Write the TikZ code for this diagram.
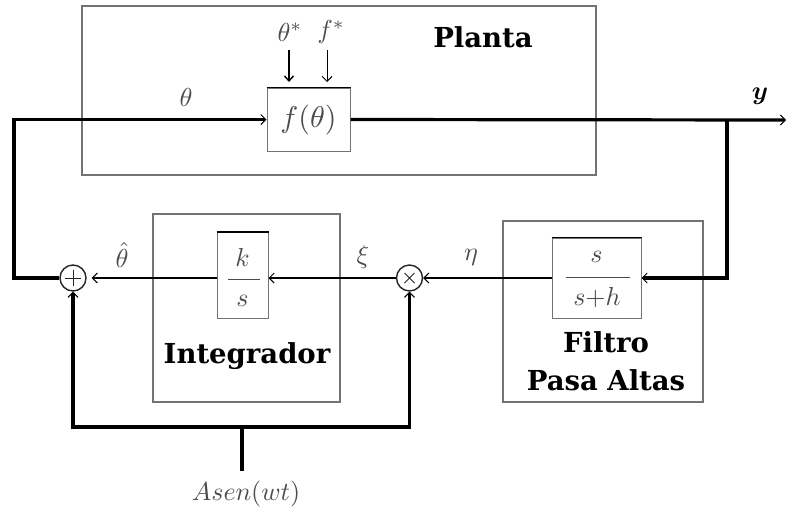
\documentclass[tikz,border=0pt]{standalone}
\usepackage{amsmath,bm}
\usepackage{graphicx}
\usepackage{fontspec}
\newfontfamily\dvs{DejaVu Serif}
\usetikzlibrary{arrows.meta}
\newcommand{\mlab}[2][2.6]{\scalebox{#1}{$#2$}}
\begin{document}
\begin{tikzpicture}[x=1pt,y=-1pt,
  outer/.style={draw=black!55, line width=1.1pt, inner sep=0pt},
  inner/.style={draw=black!55, line width=1pt, inner sep=0pt},
  thickline/.style={line width=3.2pt},
  medline/.style={line width=2pt},
  tip/.style={-{Straight Barb[length=5pt,width=10pt,line width=1pt]}},
  lbl/.style={text=black!70, inner sep=0pt},
  title/.style={font=\dvs\bfseries\fontsize{27.5}{38}\selectfont, align=center, inner sep=0pt},
  junction/.style={circle, draw=black!85, line width=1.4pt, minimum size=26pt, inner sep=0pt}]
\useasboundingbox (0,0) rectangle (787,512);

% outer boxes
\node[outer, minimum width=514pt, minimum height=169pt] (planta) at (339,90.5) {};
\node[outer, minimum width=187pt, minimum height=188pt] (integ) at (246.5,308) {};
\node[outer, minimum width=200pt, minimum height=181pt] (filtro) at (603,311.5) {};

\node[title] (tplanta) at (483,37) {Planta};
\node[title] (tinteg) at (247,356) {Integrador};
\node[title] (tfiltro) at (606,361) {Filtro\\Pasa Altas};

% inner boxes
\node[inner, minimum width=83pt, minimum height=63pt] (fbox) at (308.5,119.5) {};
\node[lbl] (ftext) at (fbox.center) {\mlab[3]{f(\theta)}};
\node[inner, minimum width=51pt, minimum height=86pt] (kbox) at (242.5,275.5) {};
\node[lbl] (knum) at (242.5,257) {\mlab{k}};
\node[lbl] (kden) at (242.5,301) {\mlab{s}};
\draw[black!70, line width=1pt] (228,279) -- (260,279);
\node[inner, minimum width=89pt, minimum height=80pt] (hpf) at (596.5,278) {};
\node[lbl] (hnum) at (596.5,257) {\mlab{s}};
\node[lbl] (hden) at (597,298) {\mlab{s{+}h}};
\draw[black!70, line width=1pt] (566,277) -- (630,277);

% darker top edges
\draw[line width=1.6pt] (fbox.north west) -- (fbox.north east);
\draw[line width=1.6pt] (kbox.north west) -- (kbox.north east);
\draw[line width=1.4pt] (hpf.north west) -- (hpf.north east);

% junctions
\node[junction, path picture={\draw[line width=1pt]
   ([shift={(0,-8)}]path picture bounding box.center) -- ([shift={(0,8)}]path picture bounding box.center)
   ([shift={(-8,0)}]path picture bounding box.center) -- ([shift={(8,0)}]path picture bounding box.center);}] (sum) at (73,278) {};
\node[junction, path picture={\draw[line width=1pt]
   ([shift={(-5,-5)}]path picture bounding box.center) -- ([shift={(5,5)}]path picture bounding box.center)
   ([shift={(-5,5)}]path picture bounding box.center) -- ([shift={(5,-5)}]path picture bounding box.center);}] (mult) at (409.5,278) {};

% labels
\node[lbl] (lth) at (186,97) {\mlab{\theta}};
\node[lbl] (ts) at (290,32) {\mlab{\theta^{*}}};
\node[lbl] (fs) at (331,32) {\mlab{f^{*}}};
\node[lbl, text=black] (ly) at (760,96) {\mlab{\bm{y}}};
\node[lbl] (lthh) at (122,255) {\mlab{\hat{\theta}}};
\node[lbl] (lxi) at (363,257) {\mlab{\xi}};
\node[lbl] (leta) at (471,257) {\mlab{\eta}};
\node[lbl] (asen) at (246,494) {\mlab{Asen(wt)}};

% coordinates
\coordinate (lcorner) at (14,200);
\coordinate (yend) at (786,120);
\coordinate (br) at (727,120);
\coordinate (src) at (242,471);
\coordinate (bj) at (242,427);
\coordinate (tsin) at (289,82);
\coordinate (fsin) at (327,82);
\coordinate (tsout) at (289,50);
\coordinate (fsout) at (327,50);

% connectors
\draw[thickline, tip] (sum.west) -| (lcorner) |- (fbox.west);
\draw[thickline, tip] (fbox.east) -- (yend);
\draw[thickline, tip] (br) |- (hpf.east);
\draw[medline, tip] (hpf.west) -- (mult.east);
\draw[medline, tip] (mult.west) -- (mult.west -| kbox.east);
\draw[medline, tip, shorten >=5pt] (sum.east -| kbox.west) -- (sum.east);
\draw[thickline] (src) -- (bj);
\draw[thickline, tip] (bj) -| (sum.south);
\draw[thickline, tip] (bj) -| (mult.south);
\draw[line width=1.8pt, -{Straight Barb[length=5pt,width=9pt,line width=1.4pt]}] (tsout) -- (tsin);
\draw[line width=1pt, tip] (fsout) -- (fsin);
\end{tikzpicture}
\end{document}
